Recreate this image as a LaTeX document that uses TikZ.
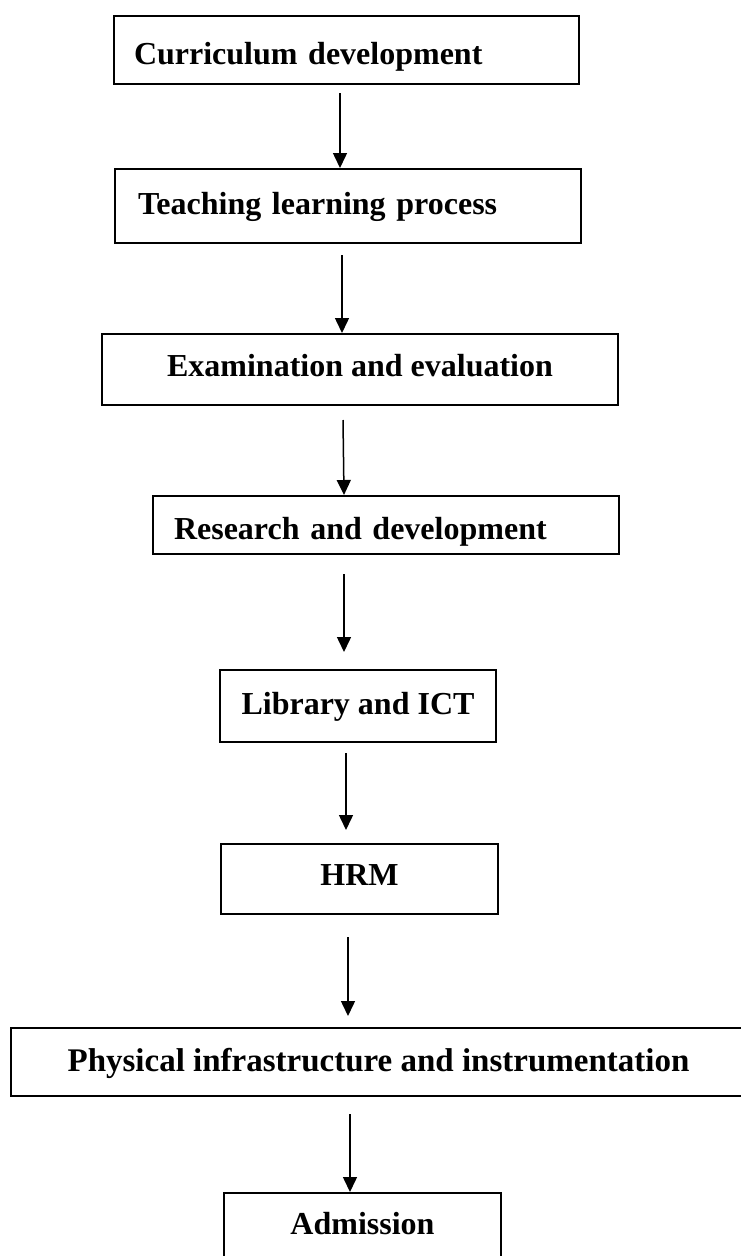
\documentclass[tikz,border=0pt]{standalone}
\usepackage{fontspec}
\setmainfont{Liberation Serif}
\usetikzlibrary{arrows.meta}

\begin{document}
\begin{tikzpicture}[
    x=1pt, y=1pt,
    box/.style={draw, line width=2pt, anchor=north west, inner xsep=0pt, inner ysep=0pt,
      font=\fontsize{32pt}{38pt}\selectfont\bfseries},
    flow/.style={line width=1.5pt, -{Triangle[length=15pt,width=14pt]}}
  ]
  \useasboundingbox (0,0) rectangle (741,-1256);

  % Boxes
  \node[box, text width=425pt, inner xsep=20pt, align=left, text height=48pt, text depth=20pt] (curric) at (113,-15) {Curriculum development};
  \node[box, text width=420pt, inner xsep=23pt, align=left, text height=45pt, text depth=29pt] (teach) at (114,-168) {Teaching learning process};
  \node[box, minimum width=516pt, text height=42pt, text depth=29pt] (exam) at (101,-333) {Examination and evaluation};
  \node[box, text width=424pt, inner xsep=21pt, align=left, text height=43pt, text depth=15pt] (research) at (152,-495) {Research and development};
  \node[box, minimum width=276pt, text height=44pt, text depth=28pt] (library) at (219,-669) {Library and ICT};
  \node[box, minimum width=277pt, text height=41pt, text depth=29pt] (hrm) at (220,-843) {HRM};
  \node[box, minimum width=735pt, text height=43pt, text depth=25pt, font=\fontsize{33pt}{40pt}\selectfont\bfseries] (physical) at (10,-1027) {Physical infrastructure and instrumentation};
  \node[box, minimum width=277pt, text height=41pt, text depth=37pt] (admission) at (223,-1192) {Admission};

  % Arrows
  \draw[flow] ([xshift=-6.5pt,yshift=-8pt]curric.south) -- ([xshift=-8pt]teach.north);
  \draw[flow] ([xshift=-6pt,yshift=-11pt]teach.south) -- ([xshift=-18pt]exam.north);
  \draw[flow] ([xshift=-17pt,yshift=-14pt]exam.south) -- ([xshift=-42pt]research.north);
  \draw[flow] ([xshift=-42pt,yshift=-19pt]research.south) -- ([xshift=-14pt,yshift=17pt]library.north);
  \draw[flow] ([xshift=-12pt,yshift=-10pt]library.south) -- ([xshift=-13.5pt,yshift=13pt]hrm.north);
  \draw[flow] ([xshift=-11.5pt,yshift=-22pt]hrm.south) -- ([xshift=-30.5pt,yshift=11pt]physical.north);
  \draw[flow] ([xshift=-28.5pt,yshift=-17pt]physical.south) -- ([xshift=-12.5pt]admission.north);
\end{tikzpicture}
\end{document}
